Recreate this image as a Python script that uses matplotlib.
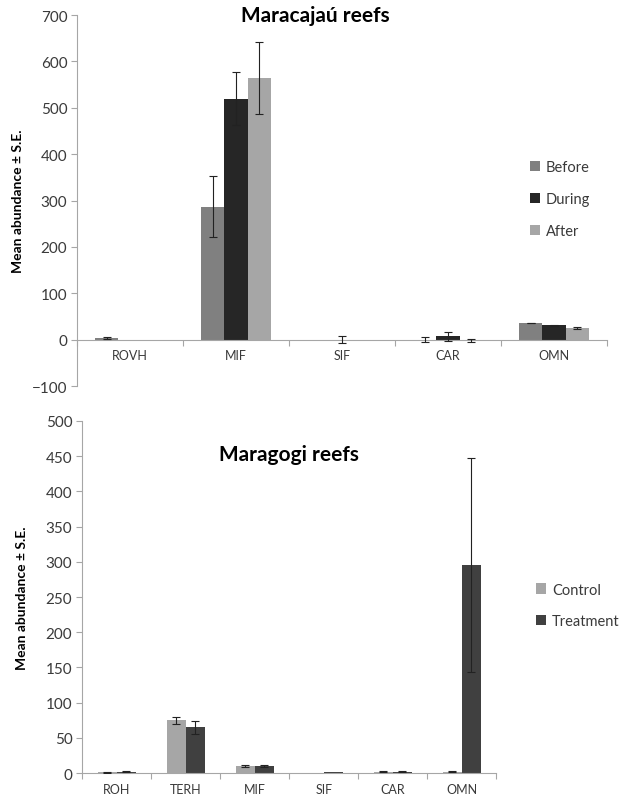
import numpy as np
import matplotlib
matplotlib.use("Agg")
import matplotlib.pyplot as plt
from matplotlib.ticker import FixedLocator, NullFormatter

plt.rcParams['font.family'] = ['Lato', 'DejaVu Sans']

# Maracajaú reefs
top_groups = ['ROVH', 'MIF', 'SIF', 'CAR', 'OMN']
top_series = ['Before', 'During', 'After']
before = [3, 287, 0, 0, 36]
before_se = [2, 66, 0, 5, 1]
during = [0, 520, 0, 7, 31]
during_se = [0, 58, 7, 9, 1]
after = [0, 564, 0, -2, 26]
after_se = [0, 77, 0, 4, 2]

# Maragogi reefs
bot_groups = ['ROH', 'TERH', 'MIF', 'SIF', 'CAR', 'OMN']
bot_series = ['Control', 'Treatment']
control = [1, 75, 10, 0, 2, 2]
control_se = [0.5, 5, 2, 0, 1, 1]
treatment = [2, 65, 10, 1, 2, 296]
treatment_se = [0.5, 9, 2, 0, 1, 152]

axis_grey = '#a6a6a6'
text_col = '#3a3a3a'


def style_axes(ax, ncat, ymin, ymax, ystep):
    ax.set_xlim(0, ncat)
    ax.set_ylim(ymin, ymax)
    for s in ['top', 'right']:
        ax.spines[s].set_visible(False)
    ax.spines['bottom'].set_position(('data', 0))
    ax.spines['bottom'].set_color(axis_grey)
    ax.spines['left'].set_color(axis_grey)
    ax.set_yticks(np.arange(ymin, ymax + 1, ystep))
    ax.tick_params(axis='y', colors=axis_grey, labelcolor=text_col,
                   labelsize=11, length=4, direction='out', pad=3)
    ax.xaxis.set_major_locator(FixedLocator(np.arange(0, ncat + 1)))
    ax.xaxis.set_major_formatter(NullFormatter())
    ax.xaxis.set_minor_locator(FixedLocator(np.arange(ncat) + 0.5))
    ax.tick_params(axis='x', which='major', colors=axis_grey, length=4, direction='out')
    ax.tick_params(axis='x', which='minor', length=0, labelsize=9,
                   labelcolor=text_col, pad=7)
    ax.set_ylabel('Mean abundance ± S.E.', fontsize=10, fontweight='bold', color='black')


def draw_bars(ax, pos, vals, se, color, label, w):
    ax.bar(pos, vals, w, color=color, label=label, zorder=2)
    vals = np.array(vals, dtype=float)
    se = np.array(se, dtype=float)
    keep = se > 0
    ax.errorbar(pos[keep], vals[keep], yerr=se[keep], fmt='none', ecolor='#222222',
                elinewidth=0.8, capsize=3, capthick=0.8, zorder=3)


fig = plt.figure(figsize=(6.22, 8.03), dpi=100)

# top panel
ax1 = fig.add_axes([0.124, 0.518, 0.852, 0.462])
x = np.arange(len(top_groups)) + 0.5
w = 0.22
cols1 = ['#808080', '#262626', '#a6a6a6']
for i, (vals, se) in enumerate([(before, before_se), (during, during_se), (after, after_se)]):
    draw_bars(ax1, x + (i - 1) * w, vals, se, cols1[i], top_series[i], w)
style_axes(ax1, len(top_groups), -100, 700, 100)
ax1.set_xticklabels(top_groups, minor=True)
ax1.yaxis.set_label_coords(-0.1, 0.5)
ax1.text(0.45, 1.0, 'Maracajaú reefs', transform=ax1.transAxes, ha='center',
         va='center', fontsize=15, fontweight='bold')
ax1.legend(loc='center left', bbox_to_anchor=(0.84, 0.751), bbox_transform=fig.transFigure,
           frameon=False, handlelength=0.7, handleheight=0.7, handletextpad=0.4,
           labelspacing=1.25, borderpad=0, fontsize=10.5, labelcolor=text_col)

# bottom panel
ax2 = fig.add_axes([0.132, 0.036, 0.666, 0.4385])
x = np.arange(len(bot_groups)) + 0.5
w = 0.275
cols2 = ['#a6a6a6', '#404040']
for i, (vals, se) in enumerate([(control, control_se), (treatment, treatment_se)]):
    draw_bars(ax2, x + (i - 0.5) * w, vals, se, cols2[i], bot_series[i], w)
style_axes(ax2, len(bot_groups), 0, 500, 50)
ax2.set_xticklabels(bot_groups, minor=True)
ax2.yaxis.set_label_coords(-0.13, 0.5)
ax2.text(0.5, 0.935, 'Maragogi reefs', transform=ax2.transAxes, ha='center',
         va='top', fontsize=15, fontweight='bold')
ax2.legend(loc='center left', bbox_to_anchor=(0.85, 0.245), bbox_transform=fig.transFigure,
           frameon=False, handlelength=0.7, handleheight=0.7, handletextpad=0.4,
           labelspacing=1.2, borderpad=0, fontsize=10.5, labelcolor=text_col)

fig.savefig('out.png', dpi=100, facecolor='white')
